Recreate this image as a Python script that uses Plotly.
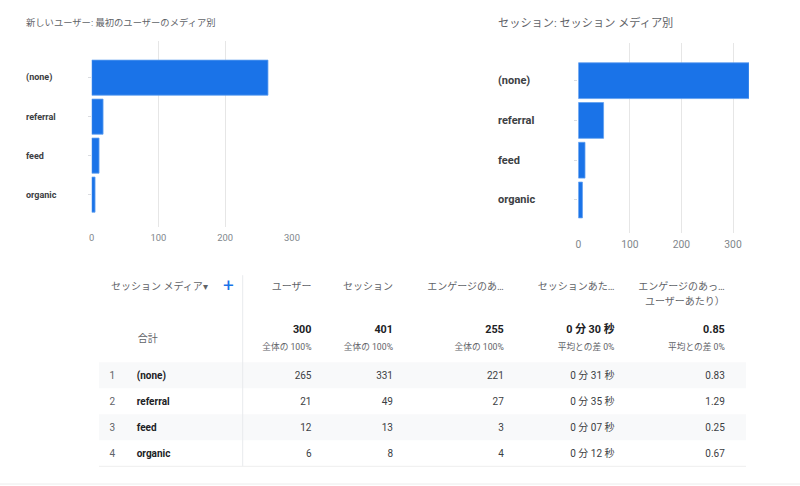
import plotly.graph_objects as go

# ---------------- data ----------------
categories = ["(none)", "referral", "feed", "organic"]
new_users_by_first_medium = [264, 17, 11, 5]
sessions_by_medium = [331, 49, 13, 8]

left_title = "新しいユーザー: 最初のユーザーのメディア別"
right_title = "セッション: セッション メディア別"
x_ticks_left = [0, 100, 200, 300]
x_ticks_right = [0, 100, 200, 300]

table_dim_header = "セッション メディア▾"
table_headers = ["ユーザー", "セッション", "エンゲージのあ…", "セッションあた…", "エンゲージのあっ…"]
table_headers_line2 = ["", "", "", "", "ユーザーあたり）"]
row_numbers = ["1", "2", "3", "4"]
users = [265, 21, 12, 6]
sessions = [331, 49, 13, 8]
engaged_sessions = [221, 27, 3, 4]
avg_session_duration = ["0 分 31 秒", "0 分 35 秒", "0 分 07 秒", "0 分 12 秒"]
engaged_per_user = ["0.83", "1.29", "0.25", "0.67"]
totals_label = "合計"
totals = ["300", "401", "255", "0 分 30 秒", "0.85"]
totals_sub = ["全体の 100%", "全体の 100%", "全体の 100%", "平均との差 0%", "平均との差 0%"]

# ---------------- style / layout constants ----------------
FONT = "Roboto, 'Noto Sans CJK JP', sans-serif"
BLUE = "#1a73e8"
GRID = "#e6e6e6"
W, H = 800, 486
STRIPE = "#f8f9fa"

# table geometry (table x units = px from table's left edge, y units = rows of 26 px)
TABLE_W = 647
ROW_PX = 26
IDX_X, NAME_X, TOTAL_LABEL_X, DIM_X, PLUS_X, SEP_X = 13.3, 37.7, 48.7, 12, 129.3, 143.7
METRIC_RIGHT_X = [212.5, 294.0, 404.8, 515.5, 625.8]
HEADER_Y, HEADER2_Y = -2.377, -1.80
TOTAL_Y, TOTAL_SUB_Y, TOTAL_LABEL_Y = -0.712, -0.05, -0.388
TEXT_DY = 0.045
SEP_TOP, TABLE_BOTTOM = -2.85, 4.5
Y_TOP_PX, Y_ORIGIN_PX = 262, 349.3

fig = go.Figure()

bar_style = dict(color=BLUE, line=dict(color="#5e9ef0", width=0.8))
fig.add_trace(go.Bar(y=categories, x=new_users_by_first_medium, orientation="h",
                     xaxis="x", yaxis="y", marker=bar_style, showlegend=False))
fig.add_trace(go.Bar(y=categories, x=sessions_by_medium, orientation="h",
                     xaxis="x2", yaxis="y2", marker=bar_style, showlegend=False))

# ---------------- table (drawn on its own axes) ----------------
n = len(row_numbers)
row_pos = [i + 1 for i in range(n)]
text_pos = [r + TEXT_DY for r in row_pos]
stripe_rows = [r for r in row_pos if r % 2 == 1]

fig.add_trace(go.Bar(x=[TABLE_W] * len(stripe_rows), y=stripe_rows, base=0, width=1,
                     orientation="h", xaxis="x3", yaxis="y3", marker=dict(color=STRIPE, line=dict(width=0)),
                     hoverinfo="skip", showlegend=False))


def text_trace(xs, ys, texts, pos, size, color, bold=False):
    if bold:
        texts = ["<b>" + t + "</b>" if t else t for t in texts]
    return go.Scatter(x=xs, y=ys, text=texts, mode="text", textposition=pos,
                      textfont=dict(family=FONT, size=size, color=color),
                      xaxis="x3", yaxis="y3", hoverinfo="skip", showlegend=False, cliponaxis=False)


# header
fig.add_trace(text_trace([DIM_X], [HEADER_Y], [table_dim_header], "middle right", 10, "#5f6368"))
fig.add_trace(text_trace([PLUS_X], [HEADER_Y], ["+"], "middle center", 19, BLUE))
fig.add_trace(text_trace(METRIC_RIGHT_X, [HEADER_Y] * 5, table_headers, "middle left", 10, "#5f6368"))
fig.add_trace(text_trace(METRIC_RIGHT_X, [HEADER2_Y] * 5, table_headers_line2, "middle left", 10, "#5f6368"))
# totals
fig.add_trace(text_trace([TOTAL_LABEL_X], [TOTAL_LABEL_Y], [totals_label], "middle center", 10, "#5f6368"))
fig.add_trace(text_trace(METRIC_RIGHT_X, [TOTAL_Y] * 5, totals, "middle left", 10.8, "#202124", bold=True))
fig.add_trace(text_trace(METRIC_RIGHT_X, [TOTAL_SUB_Y] * 5, totals_sub, "middle left", 8.7, "#5f6368"))
# rows
fig.add_trace(text_trace([IDX_X] * n, text_pos, row_numbers, "middle center", 10, "#5f6368"))
fig.add_trace(text_trace([NAME_X] * n, text_pos, categories, "middle right", 10, "#202124", bold=True))
metric_cols = [users, sessions, engaged_sessions, avg_session_duration, engaged_per_user]
for xr, col in zip(METRIC_RIGHT_X, metric_cols):
    fig.add_trace(text_trace([xr] * n, text_pos, [str(v) for v in col], "middle left", 10, "#3c4043"))

# ---------------- layout ----------------
axis_common = dict(showgrid=True, gridcolor=GRID, gridwidth=1, zeroline=False, showline=False,
                   tickmode="array", fixedrange=True, automargin=False, ticklabelstandoff=4)
yaxis_common = dict(showgrid=False, zeroline=False, showline=False, showticklabels=False,
                    ticks="outside", ticklen=3, tickcolor="#dadce0", type="category",
                    fixedrange=True, automargin=False)

y3_top = (Y_TOP_PX - Y_ORIGIN_PX) / ROW_PX
y3_bottom = (H - Y_ORIGIN_PX) / ROW_PX

fig.update_layout(
    width=W, height=H, autosize=False,
    margin=dict(l=0, r=0, t=0, b=0, pad=0, autoexpand=False),
    paper_bgcolor="white", plot_bgcolor="rgba(0,0,0,0)",
    bargap=0.1, showlegend=False,
    font=dict(family=FONT, size=11, color="#3c4043"),
    xaxis=dict(domain=[91.7 / W, 292 / W], range=[0, 300], tickvals=x_ticks_left, anchor="y",
               tickfont=dict(family=FONT, size=9.4, color="#80868b"), **axis_common),
    yaxis=dict(domain=[1 - 227 / H, 1 - 41 / H], range=[3.83, -0.94], anchor="x", **yaxis_common),
    xaxis2=dict(domain=[578.3 / W, 749 / W], range=[0, 331], tickvals=x_ticks_right, anchor="y2",
                tickfont=dict(family=FONT, size=10.3, color="#80868b"), **axis_common),
    yaxis2=dict(domain=[1 - 233 / H, 1 - 42.7 / H], range=[3.83, -0.955], anchor="x2",
                **yaxis_common),
    xaxis3=dict(domain=[99 / W, 746 / W], range=[0, TABLE_W], visible=False, fixedrange=True,
                anchor="y3"),
    yaxis3=dict(domain=[0, 1 - Y_TOP_PX / H], range=[y3_bottom, y3_top], visible=False,
                fixedrange=True, anchor="x3"),
    shapes=[
        dict(type="line", xref="x3", yref="y3", x0=SEP_X, x1=SEP_X, y0=SEP_TOP, y1=TABLE_BOTTOM,
             line=dict(color="#e8eaed", width=1)),
        dict(type="line", xref="x3", yref="y3", x0=0, x1=TABLE_W, y0=TABLE_BOTTOM, y1=TABLE_BOTTOM,
             line=dict(color="#eeeeee", width=1)),
        dict(type="line", xref="paper", yref="paper", x0=0, x1=1, y0=1 - 484 / H, y1=1 - 484 / H,
             line=dict(color="#ececec", width=1)),
    ],
)

annotations = [
    dict(text=left_title, x=25 / W, y=1 - 22 / H, xref="paper", yref="paper",
         xanchor="left", yanchor="middle", showarrow=False, borderpad=0,
         font=dict(family=FONT, size=9.3, color="#5f6368")),
    dict(text=right_title, x=497 / W, y=1 - 23 / H, xref="paper", yref="paper",
         xanchor="left", yanchor="middle", showarrow=False, borderpad=0,
         font=dict(family=FONT, size=11.2, color="#5f6368")),
]
for c in categories:
    annotations.append(dict(text="<b>" + c + "</b>", x=25 / W, y=c, xref="paper", yref="y",
                            xanchor="left", yanchor="middle", showarrow=False, borderpad=0,
                            font=dict(family=FONT, size=9, color="#3c4043")))
    annotations.append(dict(text="<b>" + c + "</b>", x=497 / W, y=c, xref="paper", yref="y2",
                            xanchor="left", yanchor="middle", showarrow=False, borderpad=0,
                            font=dict(family=FONT, size=11, color="#3c4043")))
fig.update_layout(annotations=annotations)

fig.write_html("out.html")
